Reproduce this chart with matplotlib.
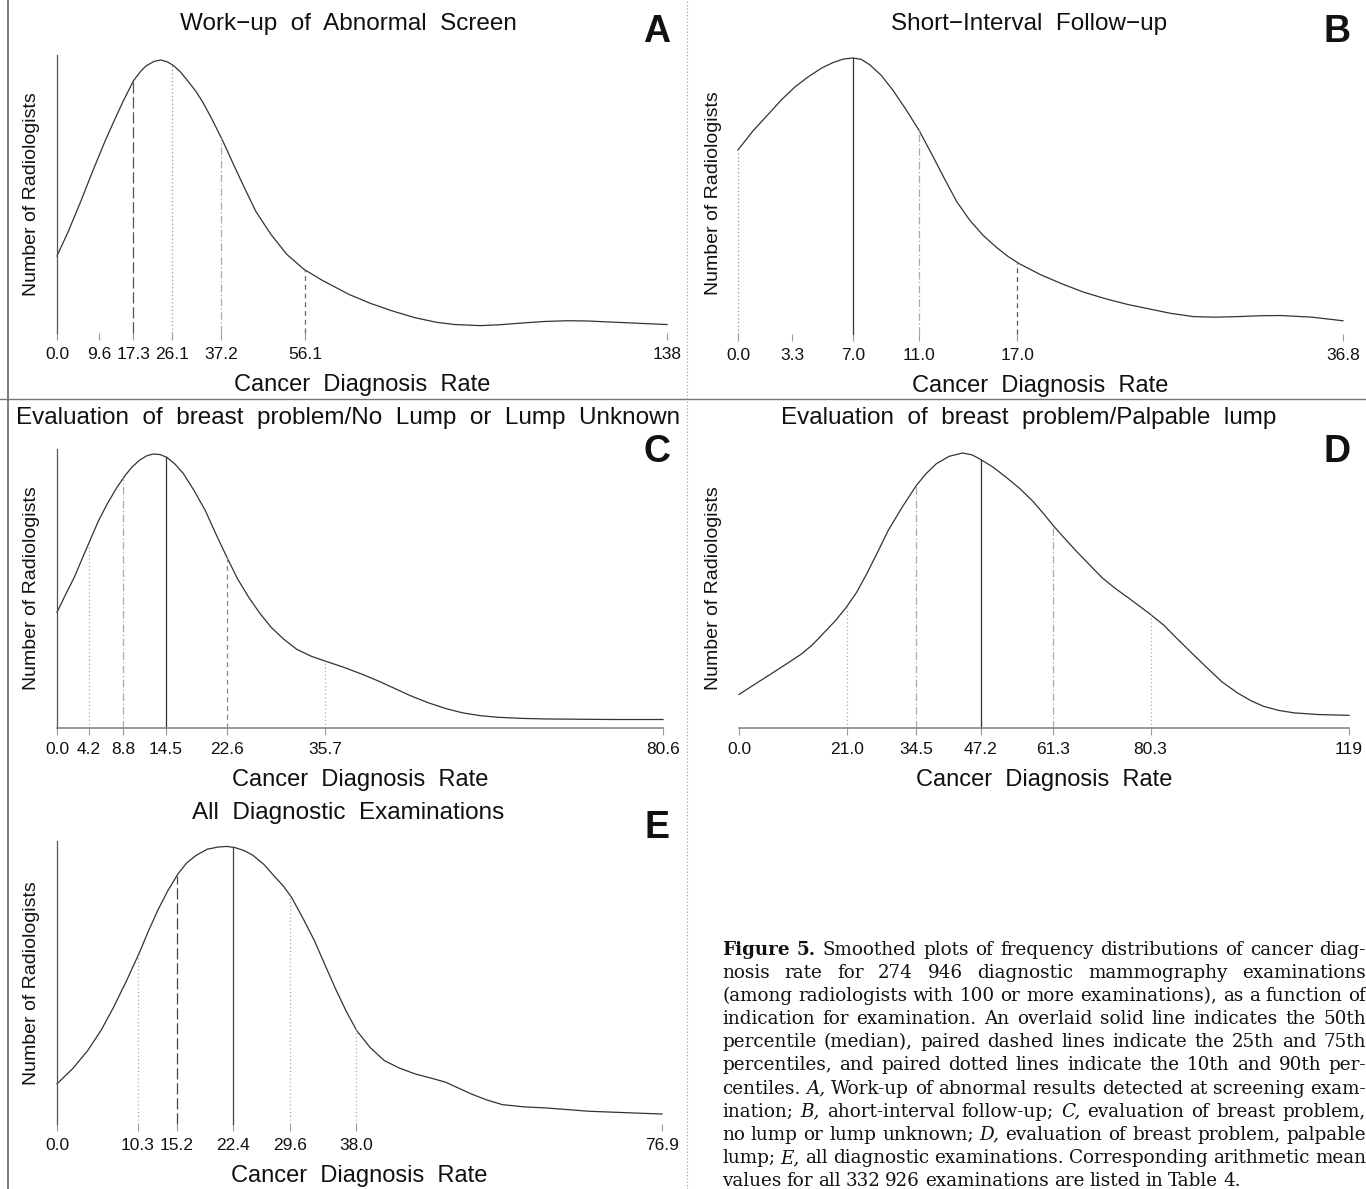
import matplotlib
matplotlib.use("Agg")
import numpy as np
import matplotlib.pyplot as plt
from matplotlib.lines import Line2D

plt.rcParams['font.family'] = ['Liberation Sans', 'DejaVu Sans']

# ------------------------------------------------------------------ data
# A  Work-up of Abnormal Screen
a_rate = [0.0, 2.5, 5.4, 8.0, 10.9, 13.0, 15.0, 17.3, 19.0, 20.2, 22.0, 23.5, 25.0, 26.4,
          28.0, 30.0, 31.6, 33.0, 35.0, 37.5, 40.0, 42.4, 45.0, 48.4, 52.0, 55.9, 60.0,
          66.1, 71.0, 76.0, 81.0, 85.9, 90.0, 95.8, 100.0, 105.6, 110.0, 115.5, 120.0,
          125.4, 131.0, 138.0]
a_count = [28.2, 37.0, 48.3, 59.0, 70.4, 78.0, 85.0, 92.4, 96.0, 97.9, 99.5, 100.0, 99.3, 97.9,
           95.5, 91.5, 88.1, 84.5, 78.5, 70.4, 61.5, 53.2, 44.5, 36.1, 28.8, 23.3, 19.3,
           14.1, 10.8, 8.0, 5.6, 3.9, 3.1, 2.7, 3.0, 3.7, 4.2, 4.5, 4.4,
           4.0, 3.6, 3.1]
a_pct = [9.6, 17.3, 26.1, 37.2, 56.1]
a_ticklabels = ['0.0', '9.6', '17.3', '26.1', '37.2', '56.1', '138']
a_xmax = 138.0

# B  Short-Interval Follow-up
b_rate = [0.0, 0.9, 1.9, 2.7, 3.5, 4.3, 5.1, 5.8, 6.4, 7.0, 7.5, 8.0, 8.7, 9.4, 10.2, 11.0,
          11.8, 12.6, 13.3, 14.1, 14.9, 15.7, 16.4, 17.1, 18.4, 19.7, 21.0, 22.4, 23.7,
          25.0, 26.3, 27.7, 29.0, 30.4, 31.7, 33.0, 34.9, 36.8]
b_count = [66.7, 73.5, 80.0, 85.2, 89.7, 93.3, 96.4, 98.4, 99.6, 100.0, 99.5, 97.6, 93.8, 88.5,
           81.5, 73.9, 65.0, 55.8, 48.0, 41.2, 35.8, 31.5, 28.2, 25.5, 21.5, 18.2, 15.2, 12.7,
           10.7, 9.1, 7.5, 6.3, 6.1, 6.3, 6.6, 6.7, 6.1, 4.8]
b_pct = [0.0, 3.3, 7.0, 11.0, 17.0]
b_ticklabels = ['0.0', '3.3', '7.0', '11.0', '17.0', '36.8']
b_xmax = 36.8

# C  Evaluation of breast problem / No Lump or Lump Unknown
c_rate = [0.0, 1.1, 2.3, 3.3, 4.4, 5.5, 6.7, 7.9, 9.1, 10.0, 11.0, 11.9, 12.8, 13.7, 14.6,
          15.7, 16.8, 18.2, 19.7, 21.1, 22.6, 24.0, 25.5, 27.0, 28.5, 30.2, 31.9, 33.8, 35.7,
          38.2, 40.6, 42.7, 44.7, 47.0, 49.4, 51.7, 54.0, 56.3, 58.7, 61.9, 65.0, 69.4,
          73.8, 80.6]
c_count = [42.2, 48.5, 55.0, 61.5, 68.5, 75.5, 81.9, 87.5, 92.3, 95.3, 97.8, 99.3, 100.0, 99.8,
           98.8, 96.3, 92.9, 86.8, 79.5, 71.0, 62.3, 54.5, 47.7, 41.8, 36.7, 32.3, 28.7, 26.2,
           24.4, 22.1, 19.6, 17.2, 14.7, 11.8, 9.2, 7.1, 5.5, 4.5, 3.9, 3.5, 3.3, 3.2,
           3.1, 3.1]
c_pct = [4.2, 8.8, 14.5, 22.6, 35.7]
c_ticklabels = ['0.0', '4.2', '8.8', '14.5', '22.6', '35.7', '80.6']
c_xmax = 80.6

# D  Evaluation of breast problem / Palpable lump
d_rate = [0.0, 3.0, 6.1, 9.1, 12.1, 14.3, 16.3, 18.7, 20.9, 23.0, 24.9, 27.0, 29.1, 31.9,
          34.6, 36.5, 38.5, 41.0, 43.6, 45.5, 47.2, 49.6, 52.1, 54.7, 57.2, 59.3, 61.3,
          63.5, 65.7, 68.3, 70.8, 73.3, 75.9, 78.0, 80.2, 82.8, 85.3, 88.3, 91.3, 94.2,
          97.2, 99.8, 102.3, 105.3, 108.3, 113.0, 119.0]
d_count = [12.2, 15.8, 19.5, 23.1, 26.8, 30.2, 34.1, 38.8, 43.8, 49.5, 56.0, 63.8, 71.8, 80.5,
           88.2, 92.5, 96.1, 98.8, 100.0, 99.3, 97.6, 94.8, 91.2, 87.2, 82.7, 78.2, 73.6,
           69.0, 64.5, 59.5, 54.7, 50.9, 47.4, 44.5, 41.4, 37.5, 32.8, 27.3, 21.9, 16.8,
           12.8, 10.0, 7.9, 6.4, 5.5, 4.9, 4.6]
d_pct = [21.0, 34.5, 47.2, 61.3, 80.3]
d_ticklabels = ['0.0', '21.0', '34.5', '47.2', '61.3', '80.3', '119']
d_xmax = 119.0

# E  All Diagnostic Examinations
e_rate = [0.0, 2.0, 3.9, 5.6, 7.2, 8.8, 10.4, 11.6, 12.8, 14.1, 15.4, 16.5, 17.7, 19.1, 20.5,
          21.6, 22.6, 23.8, 24.9, 26.3, 27.7, 28.8, 29.8, 31.2, 32.7, 34.1, 35.5, 36.8, 38.1,
          39.8, 41.6, 43.5, 45.5, 47.5, 49.4, 51.0, 52.7, 54.6, 56.6, 59.3, 62.1, 64.9,
          67.6, 72.2, 76.9]
e_count = [14.5, 20.0, 26.5, 33.8, 42.2, 51.5, 61.4, 69.5, 77.1, 84.3, 90.4, 94.3, 97.0, 99.2,
           100.0, 100.2, 99.8, 98.7, 97.0, 93.7, 89.2, 85.8, 81.9, 74.6, 66.3, 57.2, 48.2, 40.5,
           33.7, 27.6, 22.9, 20.2, 18.1, 16.6, 15.1, 13.0, 10.8, 8.7, 7.0, 6.2, 5.8, 5.2,
           4.6, 4.1, 3.6]
e_pct = [10.3, 15.2, 22.4, 29.6, 38.0]
e_ticklabels = ['0.0', '10.3', '15.2', '22.4', '29.6', '38.0', '76.9']
e_xmax = 76.9

titles = ['Work\u2212up  of  Abnormal  Screen',
          'Short\u2212Interval  Follow\u2212up',
          'Evaluation  of  breast  problem/No  Lump  or  Lump  Unknown',
          'Evaluation  of  breast  problem/Palpable  lump',
          'All  Diagnostic  Examinations']
letters = ['A', 'B', 'C', 'D', 'E']
x_label = 'Cancer  Diagnosis  Rate'
y_label = 'Number of Radiologists'

# ------------------------------------------------------------------ layout / styles
W, H = 1366, 1189
fig = plt.figure(figsize=(W / 100, H / 100), dpi=100)

DOT = (0, (1, 2))
DASHDOT = (0, (6, 2, 1, 2))
DASH = (0, (4, 3))
LONGDASH = (0, (9, 3))

panels = [
    dict(rate=a_rate, count=a_count, pct=a_pct, labels=a_ticklabels, xmax=a_xmax,
         box=(57, 667, 333, 60), yspine=True, xspine=False,
         styles=[None, (LONGDASH, '#555555'), (DOT, '#999999'), (DASHDOT, '#aaaaaa'), (DASH, '#666666')],
         title_xy=(348, 24), letter_xy=(657, 32)),
    dict(rate=b_rate, count=b_count, pct=b_pct, labels=b_ticklabels, xmax=b_xmax,
         box=(738, 1343, 334, 58), yspine=False, xspine=False,
         styles=[(DOT, '#999999'), None, ('-', '#333333'), (DASHDOT, '#aaaaaa'), (DASH, '#555555')],
         title_xy=(1029, 24), letter_xy=(1337, 32)),
    dict(rate=c_rate, count=c_count, pct=c_pct, labels=c_ticklabels, xmax=c_xmax,
         box=(57, 663, 728, 454), yspine=True, xspine=True,
         styles=[(DOT, '#aaaaaa'), (DASHDOT, '#aaaaaa'), ('-', '#333333'), (DASH, '#888888'), (DOT, '#aaaaaa')],
         title_xy=(348, 418), letter_xy=(657, 452)),
    dict(rate=d_rate, count=d_count, pct=d_pct, labels=d_ticklabels, xmax=d_xmax,
         box=(739, 1349, 728, 453), yspine=False, xspine=True,
         styles=[(DOT, '#aaaaaa'), (DASHDOT, '#aaaaaa'), ('-', '#333333'), (DASHDOT, '#aaaaaa'), (DOT, '#aaaaaa')],
         title_xy=(1029, 418), letter_xy=(1337, 452)),
    dict(rate=e_rate, count=e_count, pct=e_pct, labels=e_ticklabels, xmax=e_xmax,
         box=(57, 662, 1124, 847), yspine=True, xspine=False,
         styles=[(DOT, '#aaaaaa'), (LONGDASH, '#444444'), ('-', '#444444'), (DOT, '#aaaaaa'), (DOT, '#aaaaaa')],
         title_xy=(348, 813), letter_xy=(657, 828)),
]

YTOP = 102.0
for i, p in enumerate(panels):
    x0, x1, base, peak = p['box']
    h_px = (base - peak) * YTOP / 100.0
    w_px = x1 - x0
    ax = fig.add_axes([x0 / W, 1 - base / H, w_px / W, h_px / H])
    ax.set_xlim(0, p['xmax'])
    ax.set_ylim(0, YTOP)
    ax.set_facecolor('none')
    for s in ['top', 'right']:
        ax.spines[s].set_visible(False)
    ax.spines['left'].set_visible(p['yspine'])
    ax.spines['left'].set_color('#555555')
    ax.spines['left'].set_linewidth(0.9)
    ax.spines['bottom'].set_visible(p['xspine'])
    ax.spines['bottom'].set_color('#888888')
    ax.spines['bottom'].set_linewidth(1.2)

    ax.plot(p['rate'], p['count'], color='#333333', lw=0.9, clip_on=False,
            solid_joinstyle='round')
    for val, st in zip(p['pct'], p['styles']):
        if st is None:
            continue
        top = float(np.interp(val, p['rate'], p['count']))
        ax.plot([val, val], [0, top], linestyle=st[0], color=st[1], lw=0.9, clip_on=False)

    ticks = sorted(set([0.0] + list(p['pct']) + [p['xmax']]))
    ax.set_xticks(ticks)
    ax.set_xticklabels(p['labels'])
    ax.set_yticks([])
    ax.tick_params(axis='x', direction='out', length=5, width=0.8, color='#999999',
                   pad=5, labelsize=12.5, labelcolor='#111111')

    ax.set_xlabel(x_label, fontsize=17, color='#111111')
    ax.xaxis.set_label_coords(0.5, -52.0 / h_px)
    ax.xaxis.label.set_verticalalignment('center')
    ax.set_ylabel(y_label, fontsize=14, color='#111111')
    ax.yaxis.set_label_coords(-25.0 / w_px, 0.5)
    ax.yaxis.label.set_verticalalignment('center')

    tx, ty = p['title_xy']
    fig.text(tx / W, 1 - ty / H, titles[i], fontsize=17.5, ha='center', va='center', color='#111111')
    lx, ly = p['letter_xy']
    fig.text(lx / W, 1 - ly / H, letters[i], fontsize=27, fontweight='bold', ha='center',
             va='center', color='#111111')

# separators
fig.add_artist(Line2D([8 / W, 8 / W], [0, 1], color='#666666', lw=1.2))
fig.add_artist(Line2D([0, 1], [1 - 399 / H, 1 - 399 / H], color='#777777', lw=1.0))
fig.add_artist(Line2D([687 / W, 687 / W], [0, 1], color='#999999', lw=0.8, linestyle=DOT))

# ------------------------------------------------------------------ caption
caption_lines = [
    "Figure 5.  Smoothed plots of frequency distributions of cancer diag-",
    "nosis rate for 274\u00a0946 diagnostic mammography examinations",
    "(among radiologists with 100 or more examinations), as a function of",
    "indication for examination. An overlaid solid line indicates the 50th",
    "percentile (median), paired dashed lines indicate the 25th and 75th",
    "percentiles, and paired dotted lines indicate the 10th and 90th per-",
    "centiles. A, Work-up of abnormal results detected at screening exam-",
    "ination; B, ahort-interval follow-up; C, evaluation of breast problem,",
    "no lump or lump unknown; D, evaluation of breast problem, palpable",
    "lump; E, all diagnostic examinations. Corresponding arithmetic mean",
    "values for all 332\u00a0926 examinations are listed in Table 4.",
]
italic_words = {"A,", "B,", "C,", "D,", "E,"}
bold_words = {"Figure", "5."}
CAP_X0, CAP_X1, CAP_Y0, CAP_DY = 722, 1366, 950, 23.1
cap_font = ['DejaVu Serif']

renderer = fig.canvas.get_renderer()
for li, line in enumerate(caption_lines):
    words = line.split()
    objs = []
    for wd in words:
        t = fig.text(0, 0, wd, fontsize=13.2, family=cap_font, color='#111111',
                     fontstyle='italic' if wd in italic_words and li > 0 else 'normal',
                     fontweight='bold' if (li == 0 and wd in bold_words) else 'normal',
                     ha='left', va='center')
        objs.append(t)
    widths = [o.get_window_extent(renderer).width for o in objs]
    space = 5.0
    if li < len(caption_lines) - 1 and len(objs) > 1:
        space = max(3.5, (CAP_X1 - CAP_X0 - sum(widths)) / (len(objs) - 1))
    x = CAP_X0
    y = CAP_Y0 + li * CAP_DY
    for o, wdt in zip(objs, widths):
        o.set_position((x / W, 1 - y / H))
        x += wdt + space

fig.savefig('out.png', dpi=100)
